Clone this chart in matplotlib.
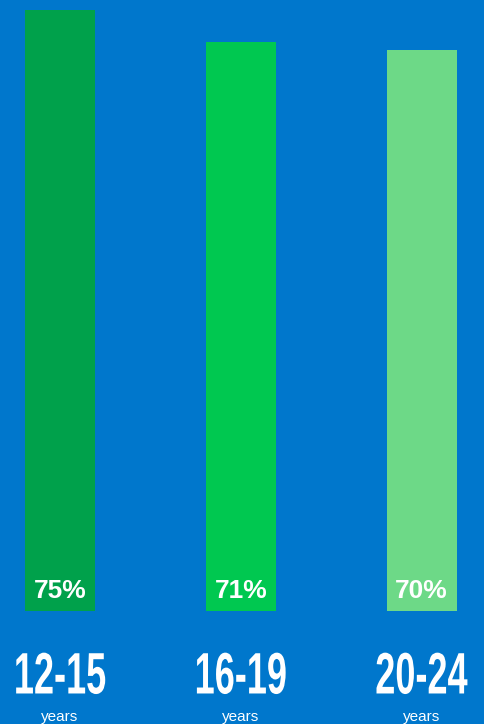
import matplotlib.pyplot as plt
from matplotlib import patheffects
from matplotlib.transforms import Affine2D

# 数据
groups = ["12-15", "16-19", "20-24"]
values = [75, 71, 70]
colors = ["#00A14B", "#00C850", "#6DD987"]
bg = "#0077CC"


class Stretch(patheffects.AbstractPathEffect):
    # 垂直拉伸文字（模拟窄体字体）
    def __init__(self, sy):
        super().__init__()
        self.sy = sy

    def draw_path(self, renderer, gc, tpath, affine, rgbFace=None):
        bb = tpath.get_extents(affine)
        cy = (bb.y0 + bb.y1) / 2
        aff = affine + Affine2D().translate(0, -cy).scale(1, self.sy).translate(0, cy)
        renderer.draw_path(gc, tpath, aff, rgbFace)


fig = plt.figure(figsize=(4.84, 7.24), dpi=100, facecolor=bg)
ax = fig.add_axes([0, 113 / 724, 1, 601 / 724])
ax.set_facecolor(bg)
x = list(range(len(groups)))
ax.bar(x, values, width=70 / 180.75, color=colors)
ax.set_xlim(-60 / 180.75, 424 / 180.75)
ax.set_ylim(0, 75)
ax.axis("off")

for i, v in enumerate(values):
    ax.text(i, 2.5, f"{v}%", ha="center", va="center", color="white",
            fontsize=19, fontweight="bold", family="Liberation Sans")
    # 年龄段标签
    ax.annotate(groups[i], (i, 0), xytext=(0, -47), textcoords="offset points",
                ha="center", va="center", color="white", fontsize=26,
                fontweight="bold", family="Liberation Sans",
                path_effects=[Stretch(1.62)])
    ax.annotate("years", (i, 0), xytext=(0, -76), textcoords="offset points",
                ha="center", va="center", color="white", fontsize=11,
                family="Liberation Sans")

fig.savefig("out.png", dpi=100, facecolor=bg)
